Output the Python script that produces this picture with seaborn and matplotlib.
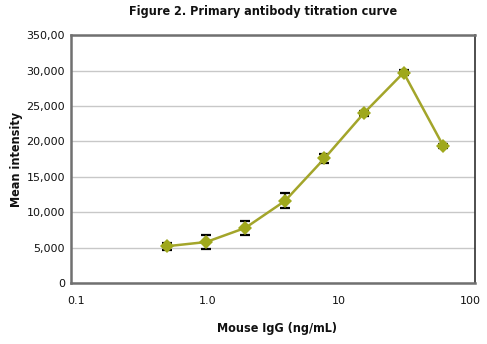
import matplotlib
matplotlib.use("Agg")
import matplotlib.pyplot as plt
import seaborn as sns
import pandas as pd
import numpy as np

conc = [0.49, 0.98, 1.95, 3.9, 7.8, 15.6, 31.25, 62.5]
intensity = [5200, 5800, 7800, 11600, 17600, 24000, 29700, 19400]
err = [500, 1000, 1000, 1050, 600, 350, 350, 300]
yticks = [0, 5000, 10000, 15000, 20000, 25000, 30000, 35000]
ytick_labels = ["0", "5,000", "10,000", "15,000", "20,000", "25,000", "30,000", "350,00"]
xticks = [0.1, 1, 10, 100]
xtick_labels = ["0.1", "1.0", "10", "100"]

sns.set_theme(style="white")
plt.rcParams['font.family'] = ['DejaVu Sans']

df = pd.DataFrame({"conc": conc, "intensity": intensity})
fig = plt.figure(figsize=(4.87, 3.44), dpi=100)
ax = fig.add_axes([0.146, 0.177, 0.829, 0.721])

ax.errorbar(conc, intensity, yerr=err, fmt="none", ecolor="black",
            elinewidth=1.6, capsize=3.5, capthick=1.6, zorder=2)
sns.lineplot(data=df, x="conc", y="intensity", ax=ax, color="#A3A52A",
             linewidth=1.8, marker="D", markersize=7, markeredgewidth=0,
             markerfacecolor="#9FA81C", zorder=3)

ax.set_xscale("log")
ax.set_xlim(0.0916, 109)
ax.set_ylim(0, 35000)
ax.set_yticks(yticks)
ax.set_yticklabels(ytick_labels, fontsize=8, color="#111111")
ax.set_xticks(xticks)
ax.set_xticklabels(xtick_labels, fontsize=8, color="#111111")
ax.minorticks_off()
ax.tick_params(axis="y", length=0, pad=4.5)
ax.tick_params(axis="x", length=0, pad=9)
ax.yaxis.grid(True, color="#c8c8c8", linewidth=1.0)
ax.set_axisbelow(True)
for s in ax.spines.values():
    s.set_visible(True)
    s.set_color("#707070")
    s.set_linewidth(1.8)
ax.spines["right"].set_color("#303030")
ax.spines["right"].set_linewidth(1.2)

bold = dict(fontweight="bold", fontstretch="condensed", color="#111111")
ax.set_xlabel("Mouse IgG (ng/mL)", fontsize=9, **bold)
ax.xaxis.set_label_coords(0.51, -0.157)
ax.set_ylabel("Mean intensity", fontsize=9, **bold)
ax.yaxis.set_label_coords(-0.118, 0.5)
fig.suptitle("Figure 2. Primary antibody titration curve", fontsize=9,
             x=0.54, y=0.985, **bold)

fig.savefig("out.png", dpi=100)
